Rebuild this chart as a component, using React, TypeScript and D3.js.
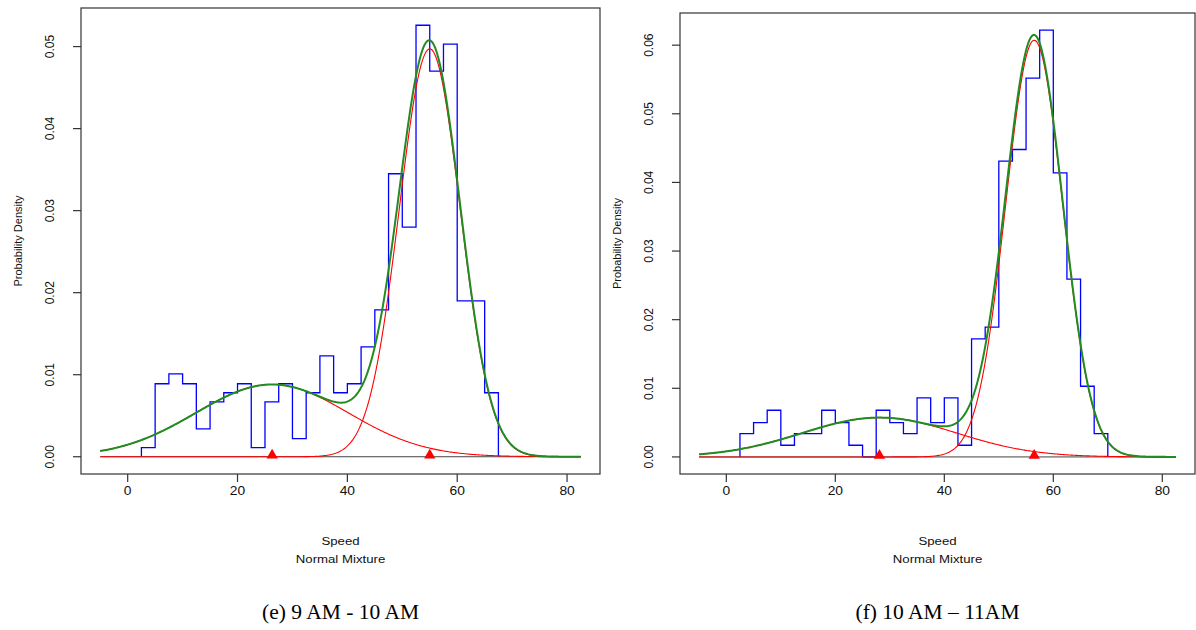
import React from "react";
import * as d3 from "d3";

// ---------- data ----------
const xTicks = [0, 20, 40, 60, 80];
const binWidth = 2.5;

// (e) 9 AM - 10 AM
const binStartE = 2.5;
const densE = [0.0011, 0.0089, 0.0101, 0.0089, 0.0034, 0.0067, 0.0078, 0.0089, 0.0011, 0.0067, 0.0089, 0.0022, 0.0078,
  0.0123, 0.0078, 0.0089, 0.0134, 0.0179, 0.0345, 0.0280, 0.0526, 0.0470, 0.0503, 0.0190, 0.0190, 0.0078];
const yTicksE = [0, 0.01, 0.02, 0.03, 0.04, 0.05];
const weightsE = [0.307, 0.693];
const meansE = [26.3, 55.0];
const sdsE = [13.9, 5.56];

// (f) 10 AM - 11 AM
const binStartF = 2.5;
const densF = [0.0034, 0.0050, 0.0068, 0.0017, 0.0034, 0.0034, 0.0068, 0.0050, 0.0017, 0, 0.0068, 0.0050, 0.0034,
  0.0086, 0.0050, 0.0086, 0.0017, 0.0172, 0.0189, 0.0431, 0.0448, 0.0552, 0.0622, 0.0414, 0.0259, 0.0103, 0.0034];
const yTicksF = [0, 0.01, 0.02, 0.03, 0.04, 0.05, 0.06];
const weightsF = [0.204, 0.796];
const meansF = [28.1, 56.5];
const sdsF = [14.2, 5.23];

const curveRange = [-5, 82.5];
const captions = ["(e) 9 AM - 10 AM", "(f) 10 AM \u2013 11AM"];

const SANS = "'Liberation Sans', Arial, sans-serif";
const SERIF = "'Liberation Serif', 'Times New Roman', serif";
const STRETCH = 1.15;

const normPdf = (x: number, m: number, s: number) =>
  Math.exp(-((x - m) * (x - m)) / (2 * s * s)) / (s * Math.sqrt(2 * Math.PI));

type PanelProps = {
  left: number; right: number; top: number; bottom: number;
  dens: number[]; binStart: number; yTicks: number[];
  weights: number[]; means: number[]; sds: number[];
  caption: string;
};

function Panel(p: PanelProps) {
  const x0 = Math.min(curveRange[0], p.binStart);
  const x1 = curveRange[1];
  const xr = x1 - x0;
  const x = d3.scaleLinear().domain([x0 - 0.04 * xr, x1 + 0.04 * xr]).range([p.left, p.right]);
  const ymax = d3.max(p.dens) as number;
  const y = d3.scaleLinear().domain([-0.04 * ymax, ymax * 1.04]).range([p.bottom, p.top]);

  // histogram step outline
  const pts: [number, number][] = [];
  pts.push([p.binStart, 0]);
  p.dens.forEach((d, i) => {
    const a = p.binStart + i * binWidth;
    pts.push([a, d]);
    pts.push([a + binWidth, d]);
  });
  pts.push([p.binStart + p.dens.length * binWidth, 0]);
  const line = d3.line<[number, number]>().x((d) => x(d[0])).y((d) => y(d[1]));
  const histPath = line(pts) as string;

  const grid = d3.range(0, 401).map((i) => curveRange[0] + (i * (curveRange[1] - curveRange[0])) / 400);
  const compPaths = p.means.map((m, k) =>
    line(grid.map((g) => [g, p.weights[k] * normPdf(g, m, p.sds[k])] as [number, number])) as string
  );
  const mixPath = line(
    grid.map((g) => [g, p.means.reduce((s, m, k) => s + p.weights[k] * normPdf(g, m, p.sds[k]), 0)] as [number, number])
  ) as string;

  const cx = (p.left + p.right) / 2;
  const tri = d3.symbol().type(d3.symbolTriangle).size(55)() as string;

  return (
    <g>
      <rect x={p.left} y={p.top} width={p.right - p.left} height={p.bottom - p.top} fill="none" stroke="#333" strokeWidth={1.2} />
      {/* x axis */}
      {xTicks.map((t) => (
        <g key={"xt" + t}>
          <line x1={x(t)} x2={x(t)} y1={p.bottom} y2={p.bottom + 8} stroke="#333" strokeWidth={1.2} />
          <text transform={`translate(${x(t)},${p.bottom + 21}) scale(${STRETCH},1)`} textAnchor="middle" fontFamily={SANS} fontSize={12} fill="#111">
            {t}
          </text>
        </g>
      ))}
      {/* y axis */}
      {p.yTicks.map((t) => (
        <g key={"yt" + t}>
          <line x1={p.left - 8} x2={p.left} y1={y(t)} y2={y(t)} stroke="#333" strokeWidth={1.2} />
          <text transform={`translate(${p.left - 27},${y(t)}) rotate(-90)`} textAnchor="middle" fontFamily={SANS} fontSize={12} fill="#111">
            {t.toFixed(2)}
          </text>
        </g>
      ))}
      <text transform={`translate(${p.left - 59},${(p.top + p.bottom) / 2}) rotate(-90)`} textAnchor="middle" fontFamily={SANS} fontSize={11} fill="#111">
        Probability Density
      </text>
      <text transform={`translate(${cx},${545}) scale(${STRETCH},1)`} textAnchor="middle" fontFamily={SANS} fontSize={11.5} fill="#111">
        Speed
      </text>
      <text transform={`translate(${cx},${563}) scale(${STRETCH},1)`} textAnchor="middle" fontFamily={SANS} fontSize={11.5} fill="#111">
        Normal Mixture
      </text>
      {/* data */}
      <path d={histPath} fill="none" stroke="#0000ff" strokeWidth={1.3} />
      <line x1={x(curveRange[0])} x2={x(curveRange[1])} y1={y(0)} y2={y(0)} stroke="#444" strokeWidth={1} />
      {compPaths.map((d, i) => (
        <path key={"c" + i} d={d} fill="none" stroke="#ff0000" strokeWidth={1.1} />
      ))}
      <path d={mixPath} fill="none" stroke="#228b22" strokeWidth={2} />
      {p.means.map((m, i) => (
        <path key={"m" + i} d={tri} transform={`translate(${x(m)},${y(0) - 1.5})`} fill="#ff0000" />
      ))}
      <text x={cx} y={619} textAnchor="middle" fontFamily={SERIF} fontSize={21.5} fill="#000">
        {p.caption}
      </text>
    </g>
  );
}

export default function App() {
  return (
    <svg width={1196} height={630} style={{ position: "absolute", left: 0, top: 0, background: "#fff" }}>
      <rect width={1196} height={630} fill="#fff" />
      <Panel left={81} right={600} top={8} bottom={474} dens={densE} binStart={binStartE} yTicks={yTicksE}
        weights={weightsE} means={meansE} sds={sdsE} caption={captions[0]} />
      <Panel left={680} right={1195} top={13} bottom={474} dens={densF} binStart={binStartF} yTicks={yTicksF}
        weights={weightsF} means={meansF} sds={sdsF} caption={captions[1]} />
    </svg>
  );
}
